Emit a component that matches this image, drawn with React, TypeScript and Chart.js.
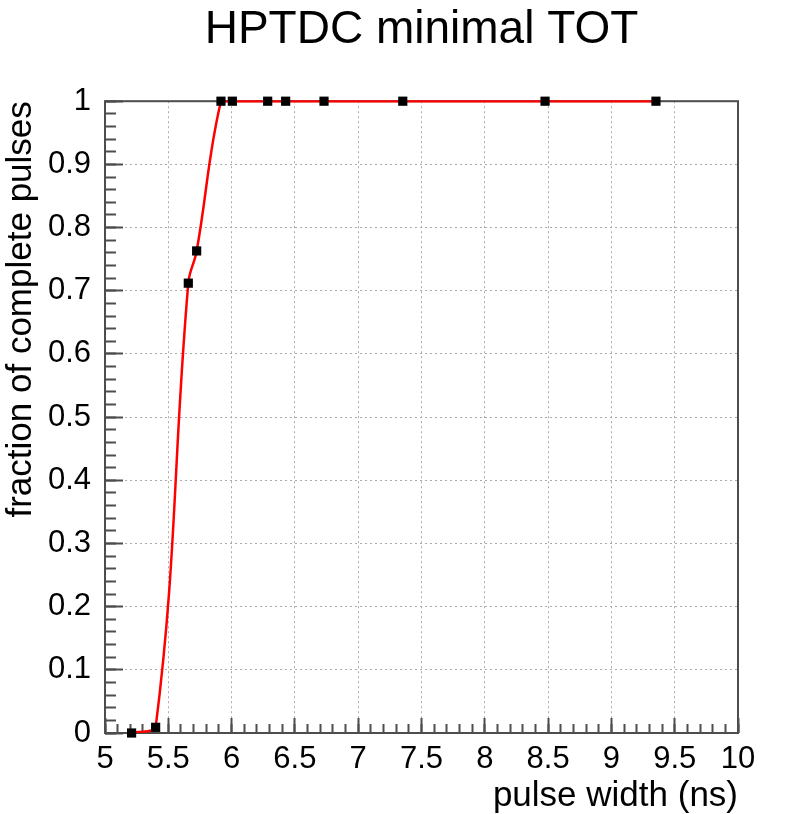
import { useEffect, useRef } from "react";
import { Chart, registerables } from "chart.js";

Chart.register(...registerables);

// ---- data ----
const pulseWidth = [5.21, 5.4, 5.658, 5.724, 5.916, 6.006, 6.285, 6.427, 6.73, 7.352, 8.476, 9.352];
const fraction = [0, 0.009, 0.712, 0.763, 1, 1, 1, 1, 1, 1, 1, 1];
const xTickValues = [5, 5.5, 6, 6.5, 7, 7.5, 8, 8.5, 9, 9.5, 10];
const yTickValues = [0, 0.1, 0.2, 0.3, 0.4, 0.5, 0.6, 0.7, 0.8, 0.9, 1];
const xMinorTickValues = Array.from({ length: 51 }, (_, i) => Number((5 + i * 0.1).toFixed(2)));
const yMinorTickValues = Array.from({ length: 51 }, (_, i) => Number((i * 0.02).toFixed(2)));
const chartTitle = "HPTDC minimal TOT";
const xAxisTitle = "pulse width (ns)";
const yAxisTitle = "fraction of complete pulses";

const FONT = "'Liberation Sans', Arial, Helvetica, sans-serif";
const FRAME = "#4d4d4d";

const framePlugin = {
  id: "rootFrame",
  beforeDatasetsDraw(chart: any) {
    const ctx: CanvasRenderingContext2D = chart.ctx;
    const a = chart.chartArea;
    ctx.save();
    ctx.strokeStyle = FRAME;
    ctx.lineWidth = 2;
    ctx.setLineDash([]);
    ctx.strokeRect(a.left, a.top, a.right - a.left, a.bottom - a.top);
    ctx.restore();
  },
};

export default function App() {
  const ref = useRef<HTMLCanvasElement | null>(null);

  useEffect(() => {
    document.body.style.margin = "0";
    const canvas = ref.current;
    if (!canvas) return;
    const points = pulseWidth.map((xv, i) => ({ x: xv, y: fraction[i] }));
    const chart = new Chart(canvas, {
      type: "scatter",
      data: {
        datasets: [
          {
            label: "curve",
            data: points,
            showLine: true,
            borderColor: "#ff0000",
            borderWidth: 2.5,
            tension: 0.4,
            pointRadius: 0,
            clip: { left: 0, right: 0, top: 1, bottom: 0 } as any,
            order: 2,
          },
          {
            label: "points",
            data: points,
            showLine: false,
            pointStyle: "rect",
            pointRadius: 6.5,
            pointBackgroundColor: "#000",
            pointBorderWidth: 0,
            clip: false as any,
            order: 1,
          },
        ],
      },
      options: {
        animation: false,
        responsive: false,
        devicePixelRatio: 1,
        layout: { padding: { left: 0, right: 52, top: 0, bottom: 0 } },
        plugins: {
          legend: { display: false },
          tooltip: { enabled: false },
          title: {
            display: true,
            text: chartTitle,
            fullSize: false,
            color: "#000",
            font: { family: FONT, size: 46, weight: "normal", lineHeight: 1.2 },
            padding: { top: 3, bottom: 43 },
          },
        },
        scales: {
          xMinor: {
            type: "linear",
            position: "bottom",
            weight: -1,
            min: 5,
            max: 10,
            afterBuildTicks: (s: any) => {
              s.ticks = xMinorTickValues.map((value) => ({ value }));
            },
            afterFit: (s: any) => {
              s.height = 0;
            },
            ticks: { display: false, autoSkip: false },
            grid: {
              drawOnChartArea: false,
              drawTicks: true,
              tickLength: -9,
              tickColor: FRAME,
              tickWidth: 2,
              tickBorderDash: [],
            },
            border: { display: false },
          },
          yMinor: {
            type: "linear",
            position: "left",
            weight: -1,
            min: 0,
            max: 1,
            afterBuildTicks: (s: any) => {
              s.ticks = yMinorTickValues.map((value) => ({ value }));
            },
            afterFit: (s: any) => {
              s.width = 0;
            },
            ticks: { display: false, autoSkip: false },
            grid: {
              drawOnChartArea: false,
              drawTicks: true,
              tickLength: -11,
              tickColor: FRAME,
              tickWidth: 2,
              tickBorderDash: [],
            },
            border: { display: false },
          },
          x: {
            type: "linear",
            min: 5,
            max: 10,
            afterBuildTicks: (s: any) => {
              s.ticks = xTickValues.map((value) => ({ value }));
            },
            afterFit: (s: any) => {
              s.height = 81;
            },
            ticks: {
              autoSkip: false,
              maxRotation: 0,
              padding: 23,
              color: "#000",
              font: { family: FONT, size: 31 },
              callback: (v: any) => String(v),
            },
            grid: {
              color: "#aaaaaa",
              lineWidth: 1,
              drawTicks: true,
              tickLength: -15,
              tickColor: FRAME,
              tickWidth: 2,
              tickBorderDash: [],
            },
            border: { display: false, dash: [2, 3] },
            title: {
              display: true,
              text: xAxisTitle,
              align: "end",
              color: "#000",
              font: { family: FONT, size: 35, lineHeight: 1 },
              padding: { top: 0, bottom: 0 },
            },
          },
          y: {
            type: "linear",
            min: 0,
            max: 1,
            afterBuildTicks: (s: any) => {
              s.ticks = yTickValues.map((value) => ({ value }));
            },
            afterFit: (s: any) => {
              s.width = 105;
            },
            ticks: {
              padding: 32,
              color: "#000",
              font: { family: FONT, size: 31 },
              callback: (v: any) => String(v),
            },
            grid: {
              color: "#aaaaaa",
              lineWidth: 1,
              drawTicks: true,
              tickLength: -18,
              tickColor: FRAME,
              tickWidth: 2,
              tickBorderDash: [],
            },
            border: { display: false, dash: [2, 3] },
            title: {
              display: true,
              text: yAxisTitle,
              align: "end",
              color: "#000",
              font: { family: FONT, size: 35, lineHeight: 1 },
              padding: { top: 4, bottom: 0 },
            },
          },
        },
      },
      plugins: [framePlugin],
    });
    return () => chart.destroy();
  }, []);

  return (
    <div style={{ width: 790, height: 814, background: "#fff" }}>
      <canvas ref={ref} width={790} height={814} style={{ display: "block" }} />
    </div>
  );
}
